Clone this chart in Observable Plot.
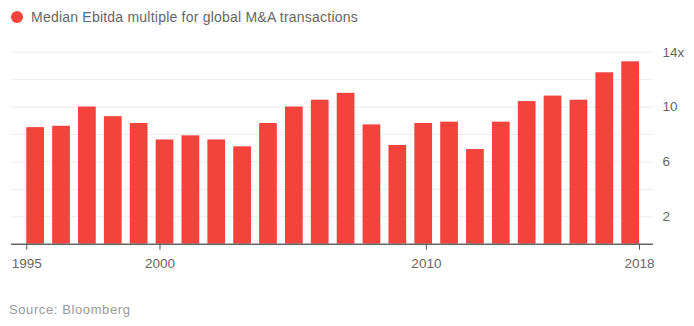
<!DOCTYPE html>
<html><head><meta charset="utf-8">
<script src="https://cdn.jsdelivr.net/npm/d3@7"></script>
<script src="https://cdn.jsdelivr.net/npm/@observablehq/plot@0.6"></script>
<style>
body{margin:0;background:#fff;font-family:"Liberation Sans",Arial,sans-serif;}
#title{height:34px;display:flex;align-items:center;padding-left:11px;color:#666;font-size:14px;letter-spacing:0.22px;}
#title .dot{width:12px;height:12px;border-radius:50%;background:#f4433c;margin-right:8px;}
#caption{margin-top:16px;line-height:16px;padding-left:9px;color:#999;font-size:13px;letter-spacing:0.6px;}
</style></head><body>
<div id="title"><span class="dot"></span><span>Median Ebitda multiple for global M&amp;A transactions</span></div>
<div id="chart"></div>
<div id="caption">Source: Bloomberg</div>
<script>
const years = [1995,1996,1997,1998,1999,2000,2001,2002,2003,2004,2005,2006,2007,2008,2009,2010,2011,2012,2013,2014,2015,2016,2017,2018];
const values = [8.5,8.6,10.0,9.3,8.8,7.6,7.9,7.6,7.1,8.8,10.0,10.5,11.0,8.7,7.2,8.8,8.9,6.9,8.9,10.4,10.8,10.5,12.5,13.3];
const xTicks = [1995,2000,2010,2018];
const yLabelTicks = [2,6,10,14];
const gridTicks = [2,4,6,8,10,12,14];

const band = d3.scaleBand().domain(years).range([1995, 2018]).paddingInner(0.315).paddingOuter(0);
const data = years.map((yr, i) => ({year: yr, x1: band(yr), x2: band(yr) + band.bandwidth(), value: values[i]}));

const chart = Plot.plot({
  width: 694,
  height: 252,
  marginLeft: 11,
  marginRight: 41,
  marginTop: 17.7,
  marginBottom: 42.3,
  style: {fontFamily: "'Liberation Sans', Arial, sans-serif", fontSize: "13.5px", color: "#666", background: "#fff"},
  x: {type: "linear", domain: [1995, 2018], range: [26.3, 639]},
  y: {domain: [0, 14]},
  marks: [
    Plot.ruleY(gridTicks, {stroke: "#ececec", strokeWidth: 1}),
    Plot.rectY(data, {x1: "x1", x2: "x2", y: "value", fill: "#f4433c"}),
    Plot.ruleY([0], {stroke: "#666", strokeWidth: 1.5}),
    Plot.axisX({ticks: xTicks, tickFormat: d => String(d), tickSize: 6, tickPadding: 8, stroke: "#555", fill: "#666", label: null}),
    Plot.axisY({anchor: "right", ticks: yLabelTicks, tickSize: 0, tickPadding: 9, tickFormat: d => d === 14 ? "14x" : String(d), fill: "#666", label: null})
  ]
});
document.getElementById("chart").appendChild(chart);
</script>
</body></html>
